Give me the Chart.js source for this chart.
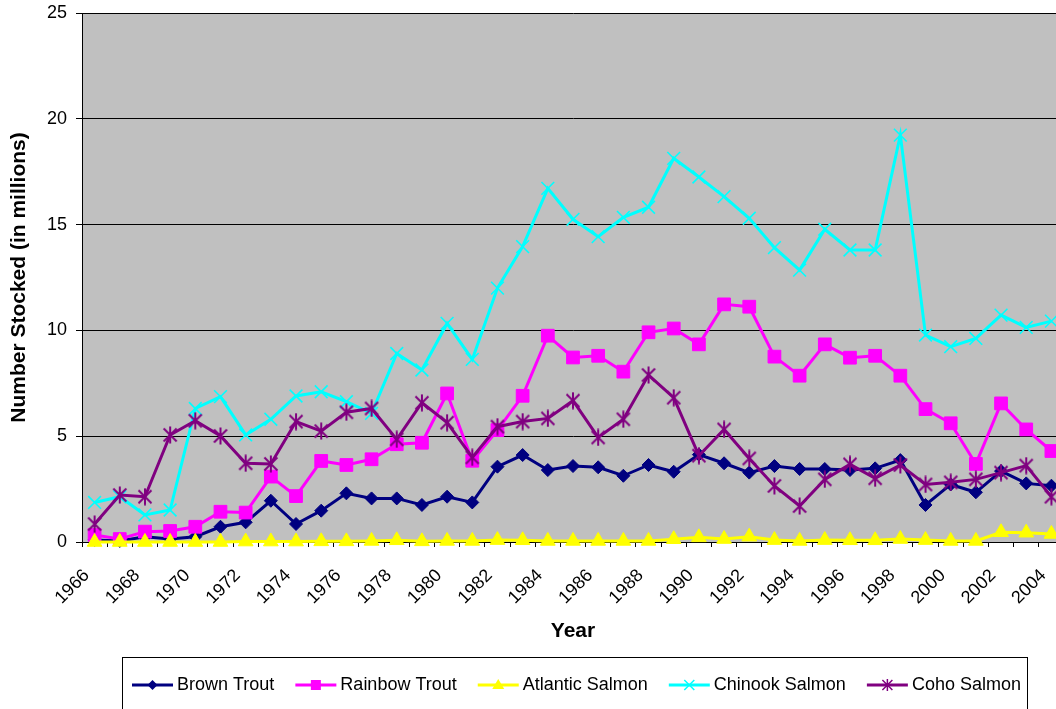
<!DOCTYPE html>
<html>
<head>
<meta charset="utf-8">
<script src="https://cdn.jsdelivr.net/npm/chart.js@4.4.1/dist/chart.umd.min.js"></script>
<style>
  html, body { margin: 0; padding: 0; background: #ffffff; overflow: hidden; }
  #wrap { position: absolute; left: 0; top: 0; width: 1075px; height: 720px; }
</style>
</head>
<body>
<div id="wrap"><canvas id="c" width="1075" height="720"></canvas></div>
<script>
// ---------- DATA ----------
const years = [1966,1967,1968,1969,1970,1971,1972,1973,1974,1975,1976,1977,1978,1979,1980,1981,1982,1983,1984,1985,1986,1987,1988,1989,1990,1991,1992,1993,1994,1995,1996,1997,1998,1999,2000,2001,2002,2003,2004];
const brownTrout = [0.10,0.05,0.25,0.14,0.25,0.72,0.93,1.95,0.85,1.48,2.30,2.06,2.06,1.75,2.14,1.87,3.56,4.11,3.40,3.59,3.53,3.13,3.64,3.32,4.13,3.72,3.28,3.59,3.45,3.45,3.40,3.48,3.87,1.75,2.72,2.35,3.35,2.77,2.66];
const rainbowTrout = [0.33,0.14,0.49,0.52,0.72,1.43,1.39,3.09,2.17,3.83,3.64,3.91,4.62,4.69,7.02,3.84,5.29,6.91,9.75,8.72,8.80,8.05,9.91,10.09,9.34,11.23,11.12,8.76,7.86,9.34,8.71,8.80,7.86,6.28,5.61,3.69,6.55,5.32,4.30];
const atlanticSalmon = [0,0,0,0,0,0,0.02,0.02,0.02,0.03,0.03,0.05,0.08,0.03,0.05,0.05,0.09,0.08,0.05,0.05,0.05,0.05,0.05,0.13,0.22,0.14,0.25,0.09,0.05,0.09,0.08,0.08,0.14,0.09,0.05,0.05,0.46,0.44,0.38];
const chinookSalmon = [1.87,2.14,1.28,1.51,6.31,6.87,5.06,5.80,6.90,7.10,6.63,6.08,8.91,8.13,10.33,8.63,12.00,13.96,16.71,15.25,14.43,15.34,15.82,18.13,17.25,16.32,15.30,13.91,12.85,14.78,13.80,13.80,19.23,9.78,9.23,9.62,10.72,10.14,10.44];
const cohoSalmon = [0.85,2.22,2.14,5.06,5.73,5.01,3.72,3.69,5.69,5.24,6.13,6.31,4.85,6.58,5.64,4.00,5.45,5.69,5.84,6.68,4.94,5.80,7.89,6.82,4.08,5.32,3.95,2.65,1.70,2.96,3.67,3.01,3.64,2.72,2.82,2.96,3.28,3.61,2.14];
const seriesNames = ['Brown Trout','Rainbow Trout','Atlantic Salmon','Chinook Salmon','Coho Salmon'];
const yTicks = [0,5,10,15,20,25];

// ---------- STYLE ----------
const FONT = '"Liberation Sans", Arial, sans-serif';
const colors = ['#000080','#FF00FF','#FFFF00','#00FFFF','#800080'];

function makeAsterisk(size, color, lw) {
  const c = document.createElement('canvas');
  c.width = size; c.height = size + 2;
  const g = c.getContext('2d');
  g.strokeStyle = color; g.lineWidth = lw;
  const m = size / 2, h = (size + 2) / 2;
  g.beginPath();
  g.moveTo(m, 0.5); g.lineTo(m, size + 1.5);
  g.moveTo(1.5, h - m + 1.5); g.lineTo(size - 1.5, h + m - 1.5);
  g.moveTo(size - 1.5, h - m + 1.5); g.lineTo(1.5, h + m - 1.5);
  g.stroke();
  return c;
}
const asterisk = makeAsterisk(16, '#800080', 2);

const bgPlugin = {
  id: 'plotBg',
  beforeDraw(chart) {
    const {ctx, chartArea: a} = chart;
    ctx.save();
    ctx.fillStyle = '#C0C0C0';
    ctx.fillRect(a.left, a.top, a.right - a.left, a.bottom - a.top);
    ctx.restore();
  }
};

function drawMarker(ctx, style, x, y, color) {
  ctx.save();
  ctx.fillStyle = color; ctx.strokeStyle = color;
  ctx.beginPath();
  if (style === 'diamond') {
    const r = 5;
    ctx.moveTo(x, y - r); ctx.lineTo(x + r, y); ctx.lineTo(x, y + r); ctx.lineTo(x - r, y); ctx.closePath(); ctx.fill();
  } else if (style === 'square') {
    ctx.rect(x - 5, y - 5, 10, 10); ctx.fill();
  } else if (style === 'triangle') {
    ctx.moveTo(x, y - 6); ctx.lineTo(x + 6, y + 4); ctx.lineTo(x - 6, y + 4); ctx.closePath(); ctx.fill();
  } else if (style === 'x') {
    ctx.lineWidth = 1.5;
    ctx.moveTo(x - 5, y - 5); ctx.lineTo(x + 5, y + 5); ctx.moveTo(x + 5, y - 5); ctx.lineTo(x - 5, y + 5); ctx.stroke();
  } else if (style === 'asterisk') {
    ctx.lineWidth = 1.5;
    ctx.moveTo(x, y - 6); ctx.lineTo(x, y + 6);
    ctx.moveTo(x - 5, y - 5); ctx.lineTo(x + 5, y + 5); ctx.moveTo(x + 5, y - 5); ctx.lineTo(x - 5, y + 5); ctx.stroke();
  }
  ctx.restore();
}

const legendPlugin = {
  id: 'boxLegend',
  afterDraw(chart) {
    const ctx = chart.ctx;
    ctx.save();
    ctx.strokeStyle = '#000000';
    ctx.lineWidth = 1;
    ctx.strokeRect(122.5, 657.5, 905, 70);
    ctx.font = '18px ' + FONT;
    ctx.textBaseline = 'middle';
    ctx.textAlign = 'left';
    const styles = ['diamond','square','triangle','x','asterisk'];
    const y = 685;
    let x = 132;
    chart.data.datasets.forEach((ds, i) => {
      ctx.strokeStyle = colors[i];
      ctx.lineWidth = 3;
      ctx.beginPath(); ctx.moveTo(x, y); ctx.lineTo(x + 41, y); ctx.stroke();
      drawMarker(ctx, styles[i], x + 20.5, y, colors[i]);
      ctx.fillStyle = '#000000';
      const tx = x + 45;
      ctx.fillText(ds.label, tx, y);
      x = tx + ctx.measureText(ds.label).width + 21;
    });
    ctx.restore();
  }
};

const seriesValues = [brownTrout, rainbowTrout, atlanticSalmon, chinookSalmon, cohoSalmon];
const pointStyles = ['rectRot','rect','triangle','crossRot',asterisk];
const pointRadii = [6.5, 9, 8.5, 9, 8];
const orders = [5,4,3,2,1];

const datasets = seriesValues.map((vals, i) => ({
  label: seriesNames[i],
  data: vals,
  borderColor: colors[i],
  backgroundColor: colors[i],
  borderWidth: 3,
  pointStyle: pointStyles[i],
  pointRadius: pointRadii[i],
  pointHoverRadius: pointRadii[i],
  pointBackgroundColor: colors[i],
  pointBorderColor: colors[i],
  pointBorderWidth: (i === 3) ? 1.6 : 1,
  tension: 0,
  fill: false,
  clip: false,
  order: orders[i]
}));

new Chart(document.getElementById('c'), {
  type: 'line',
  data: { labels: years.map(String), datasets },
  plugins: [bgPlugin, legendPlugin],
  options: {
    responsive: false,
    animation: false,
    devicePixelRatio: 1,
    layout: { padding: { top: 13, right: 11, left: 0, bottom: 70 } },
    plugins: { legend: { display: false }, tooltip: { enabled: false } },
    scales: {
      x: {
        type: 'category',
        offset: true,
        grid: { offset: true, drawOnChartArea: false, drawTicks: true, tickLength: 5, color: '#000000', lineWidth: 1 },
        border: { display: true, color: '#000000', width: 1 },
        ticks: {
          autoSkip: false,
          maxRotation: 45, minRotation: 45,
          padding: 18,
          labelOffset: -8,
          color: '#000000',
          font: { family: FONT, size: 18 },
          callback: function(val, idx) { return idx % 2 === 0 ? this.getLabelForValue(val) : ''; }
        },
        title: { display: true, text: 'Year', color: '#000000', font: { family: FONT, size: 21, weight: 'bold' }, padding: { top: 0, bottom: 6 } },
        afterFit(scale) { scale.height = 108; scale.paddingLeft = 0; scale.paddingRight = 0; }
      },
      y: {
        min: 0, max: 25,
        afterBuildTicks(scale) { scale.ticks = yTicks.map(v => ({ value: v })); },
        grid: { color: '#000000', lineWidth: 1, drawTicks: true, tickLength: 6 },
        border: { display: true, color: '#000000', width: 1 },
        ticks: { padding: 9, color: '#000000', font: { family: FONT, size: 18 } },
        title: { display: true, text: 'Number Stocked (in millions)', color: '#000000', font: { family: FONT, size: 21, weight: 'bold' }, padding: { top: 7, bottom: 0 } },
        afterFit(scale) { scale.width = 82; scale.paddingTop = 0; scale.paddingBottom = 0; }
      }
    }
  }
});
</script>
</body>
</html>
